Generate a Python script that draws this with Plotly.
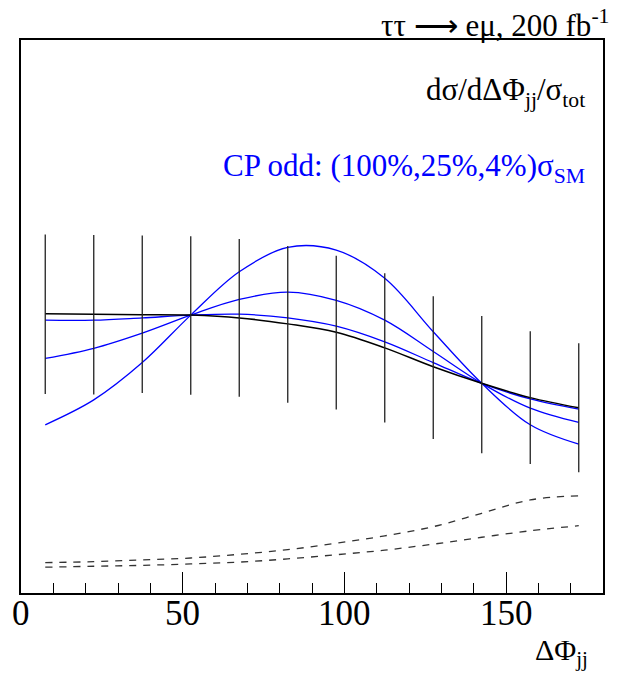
import plotly.graph_objects as go

# Bin centres in degrees
dphi = [7.5, 22.5, 37.5, 52.5, 67.5, 82.5, 97.5, 112.5, 127.5, 142.5, 157.5, 172.5]

# pseudo-data with statistical errors (200 fb^-1)
data_vals = [0.00605, 0.00604, 0.00605, 0.00602, 0.00597, 0.00583, 0.00565, 0.00532, 0.00489, 0.00452, 0.00424, 0.00402]
data_errs = [0.00173, 0.00173, 0.00171, 0.00172, 0.00171, 0.00170, 0.00167, 0.00162, 0.00155, 0.00149, 0.00144, 0.00140]

# SM (CP even) prediction
sm_curve = [0.00606, 0.00605, 0.00604, 0.00603, 0.00597, 0.00584, 0.00566, 0.00532, 0.00491, 0.00455, 0.00424, 0.00402]

# CP odd admixtures
cp_odd_4 = [0.00592, 0.00592, 0.00597, 0.00603, 0.00605, 0.00597, 0.00579, 0.00545, 0.00500, 0.00455, 0.00421, 0.00399]
cp_odd_25 = [0.00509, 0.00531, 0.00564, 0.00603, 0.00637, 0.00653, 0.00635, 0.00592, 0.00524, 0.00455, 0.00401, 0.00370]
cp_odd_100 = [0.00365, 0.00419, 0.00500, 0.00603, 0.00697, 0.00750, 0.00744, 0.00683, 0.00567, 0.00455, 0.00365, 0.00323]

# backgrounds (dashed)
bkg_upper = [0.00066, 0.00068, 0.00072, 0.00076, 0.00084, 0.00094, 0.00108, 0.00124, 0.00144, 0.00173, 0.00202, 0.00211]
bkg_lower = [0.00056, 0.00058, 0.00060, 0.00063, 0.00067, 0.00074, 0.00083, 0.00093, 0.00106, 0.00121, 0.00135, 0.00146]

x_ticks = [0, 50, 100, 150]
x_tick_text = ["0", "50", "100", "150"]

FONT = "Liberation Serif, Times New Roman, serif"

fig = go.Figure()

for ys in [cp_odd_100, cp_odd_25, cp_odd_4]:
    fig.add_trace(go.Scatter(x=dphi, y=ys, mode="lines",
                             line=dict(color="#0000ff", width=1.3, shape="spline", smoothing=1.0),
                             showlegend=False, hoverinfo="skip"))

fig.add_trace(go.Scatter(x=dphi, y=sm_curve, mode="lines",
                         line=dict(color="black", width=1.5, shape="spline", smoothing=1.0),
                         showlegend=False))

fig.add_trace(go.Scatter(x=dphi, y=data_vals, mode="markers",
                         marker=dict(size=1, color="black", opacity=0),
                         error_y=dict(type="data", array=data_errs, visible=True,
                                      color="#222222", thickness=1.3, width=0),
                         showlegend=False))

for ys in [bkg_upper, bkg_lower]:
    fig.add_trace(go.Scatter(x=dphi, y=ys, mode="lines",
                             line=dict(color="#333333", width=1.3, dash="7px,7px",
                                       shape="spline", smoothing=1.0),
                             showlegend=False))

annotations = [
    dict(xref="paper", yref="paper", x=1.013, y=1.029, xanchor="right", yanchor="middle",
         text="ττ ⟶ eμ, 200 fb<sup>-1</sup>", showarrow=False,
         font=dict(family=FONT, size=31, color="black")),
    dict(xref="paper", yref="paper", x=0.9725, y=0.906, xanchor="right", yanchor="middle",
         text="dσ/dΔΦ<sub>jj</sub>/σ<sub>tot</sub>", showarrow=False,
         font=dict(family=FONT, size=31, color="black")),
    dict(xref="paper", yref="paper", x=0.9725, y=0.7685, xanchor="right", yanchor="middle",
         text="CP odd: (100%,25%,4%)σ<sub>SM</sub>", showarrow=False,
         font=dict(family=FONT, size=31, color="#0000ff")),
    dict(xref="paper", yref="paper", x=0.978, y=-0.106, xanchor="right", yanchor="middle",
         text="ΔΦ<sub>jj</sub>", showarrow=False,
         font=dict(family=FONT, size=30, color="black")),
]
for tv, tt in zip(x_ticks, x_tick_text):
    annotations.append(dict(xref="x", yref="paper", x=tv, y=-0.037, xanchor="center",
                            yanchor="middle", text=tt, showarrow=False,
                            font=dict(family=FONT, size=35, color="black")))

fig.update_layout(
    width=621, height=679,
    margin=dict(l=21, r=18, t=40, b=86),
    paper_bgcolor="white", plot_bgcolor="white",
    font=dict(family=FONT, color="black"),
    xaxis=dict(range=[0, 180], showgrid=False, zeroline=False,
               showline=True, linecolor="black", linewidth=1.5, mirror=True,
               ticks="inside", ticklen=21, tickwidth=1, tickcolor="black",
               tickvals=x_ticks, showticklabels=False,
               minor=dict(ticks="inside", ticklen=10, tickwidth=1, tickcolor="black", dtick=10)),
    yaxis=dict(range=[0, 0.012], showgrid=False, zeroline=False,
               showline=True, linecolor="black", linewidth=1.5, mirror=True,
               showticklabels=False, ticks=""),
    annotations=annotations,
)

fig.write_html("out.html")
